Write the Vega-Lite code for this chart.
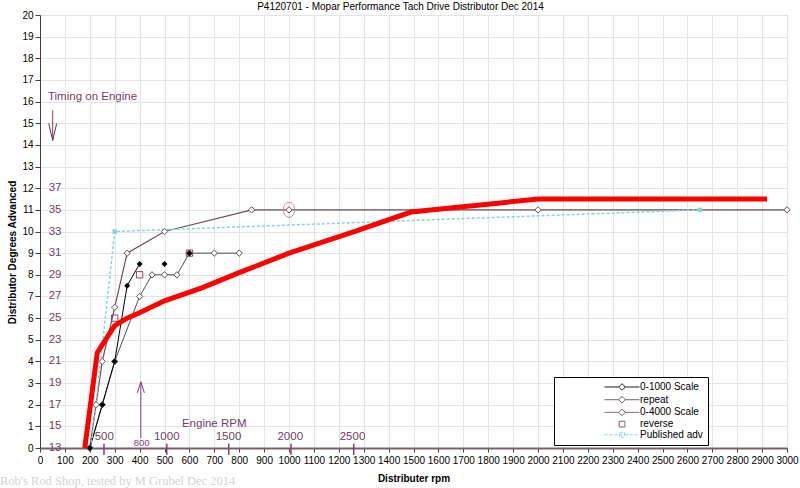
{
  "$schema": "https://vega.github.io/schema/vega-lite/v6.json",
  "width": 747,
  "height": 433,
  "autosize": {"type": "none"},
  "padding": {"left": 40, "top": 15, "right": 13, "bottom": 40},
  "background": "white",
  "config": {
    "font": "Liberation Sans",
    "view": {"stroke": "#808080", "strokeWidth": 1},
    "axis": {"labelFont": "Liberation Sans", "titleFont": "Liberation Sans", "labelColor": "#000", "titleColor": "#000", "tickColor": "#404040", "gridColor": "#e4e4e4", "gridWidth": 1}
  },
  "title": {"text": "P4120701 - Mopar Performance Tach Drive Distributor Dec 2014", "fontSize": 10, "fontWeight": "normal", "color": "#000", "offset": -2, "dx": -13, "anchor": "middle"},
  "datasets": {
    "series": [
      {"series": "0-1000 Scale", "seg": "a", "x": 200, "y": 0},
      {"series": "0-1000 Scale", "seg": "a", "x": 250, "y": 2},
      {"series": "0-1000 Scale", "seg": "a", "x": 300, "y": 4},
      {"series": "0-1000 Scale", "seg": "a", "x": 350, "y": 7.5},
      {"series": "0-1000 Scale", "seg": "a", "x": 400, "y": 8.5},
      {"series": "0-1000 Scale", "seg": "b", "x": 500, "y": 8.5},
      {"series": "0-1000 Scale", "seg": "c", "x": 600, "y": 9},
      {"series": "repeat", "seg": "a", "x": 200, "y": 0},
      {"series": "repeat", "seg": "a", "x": 250, "y": 2},
      {"series": "repeat", "seg": "a", "x": 300, "y": 4},
      {"series": "repeat", "seg": "a", "x": 400, "y": 7},
      {"series": "repeat", "seg": "a", "x": 450, "y": 8},
      {"series": "repeat", "seg": "a", "x": 500, "y": 8},
      {"series": "repeat", "seg": "a", "x": 550, "y": 8},
      {"series": "repeat", "seg": "a", "x": 600, "y": 9},
      {"series": "repeat", "seg": "a", "x": 700, "y": 9},
      {"series": "repeat", "seg": "a", "x": 800, "y": 9},
      {"series": "0-4000 Scale", "seg": "a", "x": 200, "y": 0},
      {"series": "0-4000 Scale", "seg": "a", "x": 225, "y": 2},
      {"series": "0-4000 Scale", "seg": "a", "x": 250, "y": 4},
      {"series": "0-4000 Scale", "seg": "a", "x": 300, "y": 6.5},
      {"series": "0-4000 Scale", "seg": "a", "x": 350, "y": 9},
      {"series": "0-4000 Scale", "seg": "a", "x": 500, "y": 10},
      {"series": "0-4000 Scale", "seg": "a", "x": 850, "y": 11},
      {"series": "0-4000 Scale", "seg": "a", "x": 1000, "y": 11},
      {"series": "0-4000 Scale", "seg": "a", "x": 2000, "y": 11},
      {"series": "0-4000 Scale", "seg": "a", "x": 3000, "y": 11},
      {"series": "reverse", "seg": "a", "x": 300, "y": 6},
      {"series": "reverse", "seg": "a", "x": 400, "y": 8},
      {"series": "reverse", "seg": "a", "x": 600, "y": 9},
      {"series": "Published adv", "seg": "a", "x": 205, "y": 0},
      {"series": "Published adv", "seg": "a", "x": 300, "y": 10},
      {"series": "Published adv", "seg": "a", "x": 2650, "y": 11}
    ]
  },
  "encoding": {
    "x": {
      "field": "x", "type": "quantitative",
      "scale": {"domain": [0, 3000], "nice": false, "zero": false},
      "axis": {
        "values": [0,100,200,300,400,500,600,700,800,900,1000,1100,1200,1300,1400,1500,1600,1700,1800,1900,2000,2100,2200,2300,2400,2500,2600,2700,2800,2900,3000],
        "format": "d",
        "title": "Distributer rpm", "labelFontSize": 10, "titleFontSize": 10, "titleFontWeight": "bold",
        "grid": true, "labelOverlap": false, "labelFlush": false, "tickSize": 4, "labelPadding": 3,
        "domainColor": "#6e6468", "domainWidth": 2, "titlePadding": 8
      }
    },
    "y": {
      "field": "y", "type": "quantitative",
      "scale": {"domain": [0, 20], "nice": false, "zero": false},
      "axis": {
        "values": [0,1,2,3,4,5,6,7,8,9,10,11,12,13,14,15,16,17,18,19,20],
        "format": "d",
        "title": "Distributor Degrees Advanced", "labelFontSize": 10, "titleFontSize": 10, "titleFontWeight": "bold",
        "grid": true, "labelOverlap": false, "labelFlush": false, "tickSize": 5, "labelPadding": 2,
        "domainColor": "#404040", "titlePadding": 4, "titleY": 237
      }
    }
  },
  "layer": [
    {
      "data": {"values": [
        {"x": 35, "y": 0, "label": "13"}, {"x": 35, "y": 1, "label": "15"}, {"x": 35, "y": 2, "label": "17"},
        {"x": 35, "y": 3, "label": "19"}, {"x": 35, "y": 4, "label": "21"}, {"x": 35, "y": 5, "label": "23"},
        {"x": 35, "y": 6, "label": "25"}, {"x": 35, "y": 7, "label": "27"}, {"x": 35, "y": 8, "label": "29"},
        {"x": 35, "y": 9, "label": "31"}, {"x": 35, "y": 10, "label": "33"}, {"x": 35, "y": 11, "label": "35"},
        {"x": 35, "y": 12, "label": "37"}
      ]},
      "mark": {"type": "text", "align": "left", "baseline": "middle", "fontSize": 11.5, "color": "#6f3f5f"},
      "encoding": {"text": {"field": "label"}}
    },
    {
      "data": {"values": [
        {"x": 32, "y": 16.2, "label": "Timing on Engine"},
        {"x": 570, "y": 1.1, "label": "Engine RPM"}
      ]},
      "mark": {"type": "text", "align": "left", "baseline": "middle", "fontSize": 11.5, "color": "#6f3f5f"},
      "encoding": {"text": {"field": "label"}}
    },
    {
      "data": {"values": [
        {"x": 258, "y": 0.52, "label": "500"},
        {"x": 509, "y": 0.52, "label": "1000"},
        {"x": 757, "y": 0.52, "label": "1500"},
        {"x": 1005, "y": 0.52, "label": "2000"},
        {"x": 1255, "y": 0.52, "label": "2500"}
      ]},
      "mark": {"type": "text", "align": "center", "baseline": "middle", "fontSize": 11.5, "color": "#6f3f5f"},
      "encoding": {"text": {"field": "label"}}
    },
    {
      "data": {"values": [{"x": 408, "y": 0.22, "label": "800"}]},
      "mark": {"type": "text", "align": "center", "baseline": "middle", "fontSize": 9.5, "color": "#8a3a80"},
      "encoding": {"text": {"field": "label"}}
    },
    {
      "data": {"values": [
        {"x": 257, "y": 0.2, "y2": -0.32},
        {"x": 509, "y": 0.2, "y2": -0.32},
        {"x": 758, "y": 0.2, "y2": -0.32},
        {"x": 1008, "y": 0.2, "y2": -0.32},
        {"x": 1260, "y": 0.2, "y2": -0.32}
      ]},
      "mark": {"type": "rule", "color": "#8a3a80", "strokeWidth": 1.5},
      "encoding": {"y2": {"field": "y2"}}
    },
    {
      "data": {"values": [
        {"x": 405, "y": 0.46, "y2": 3.06},
        {"x": 51, "y": 15.6, "y2": 14.2}
      ]},
      "mark": {"type": "rule", "color": "#8a3a80", "strokeWidth": 1},
      "encoding": {"y2": {"field": "y2"}}
    },
    {
      "data": {"values": [{"x": 405, "y": 2.8}]},
      "mark": {"type": "point", "shape": "M-0.64,1L0,-1L0.64,1", "size": 121, "filled": false, "stroke": "#8a3a80", "strokeWidth": 1, "opacity": 1}
    },
    {
      "data": {"values": [{"x": 51, "y": 14.6}]},
      "mark": {"type": "point", "shape": "M-0.47,-1L0,1L0.47,-1", "size": 289, "filled": false, "stroke": "#5a3a50", "strokeWidth": 1, "opacity": 1}
    },
    {
      "data": {"name": "series"},
      "transform": [{"filter": "datum.series === '0-4000 Scale'"}],
      "mark": {"type": "line", "color": "#6b4d5b", "strokeWidth": 1.2}
    },
    {
      "data": {"name": "series"},
      "transform": [{"filter": "datum.series === 'repeat'"}],
      "mark": {"type": "line", "color": "#505050", "strokeWidth": 1}
    },
    {
      "data": {"name": "series"},
      "transform": [{"filter": "datum.series === '0-1000 Scale'"}],
      "mark": {"type": "line", "color": "#000000", "strokeWidth": 1},
      "encoding": {"detail": {"field": "seg"}}
    },
    {
      "data": {"name": "series"},
      "transform": [{"filter": "datum.series === 'Published adv'"}],
      "mark": {"type": "line", "color": "#7fd9d9", "strokeWidth": 1.5, "strokeDash": [3, 2]}
    },
    {
      "data": {"name": "series"},
      "transform": [{"filter": "datum.series === 'Published adv'"}],
      "mark": {"type": "point", "shape": "square", "size": 20, "filled": true, "color": "#7fd9d9", "opacity": 1}
    },
    {
      "data": {"name": "series"},
      "transform": [{"filter": "datum.series === '0-4000 Scale'"}],
      "mark": {"type": "point", "shape": "diamond", "size": 40, "filled": true, "fill": "#ffffff", "stroke": "#6b4d5b", "strokeWidth": 1, "opacity": 1}
    },
    {
      "data": {"name": "series"},
      "transform": [{"filter": "datum.series === 'repeat'"}],
      "mark": {"type": "point", "shape": "diamond", "size": 40, "filled": true, "fill": "#ffffff", "stroke": "#505050", "strokeWidth": 1, "opacity": 1}
    },
    {
      "data": {"name": "series"},
      "transform": [{"filter": "datum.series === 'reverse'"}],
      "mark": {"type": "point", "shape": "square", "size": 40, "filled": false, "stroke": "#7a5060", "strokeWidth": 1, "opacity": 1}
    },
    {
      "data": {"name": "series"},
      "transform": [{"filter": "datum.series === '0-1000 Scale'"}],
      "mark": {"type": "point", "shape": "diamond", "size": 36, "filled": true, "color": "#000000", "opacity": 1}
    },
    {
      "data": {"values": [
        {"x": 180, "y": 0}, {"x": 230, "y": 4.4}, {"x": 300, "y": 5.65}, {"x": 350, "y": 6.0},
        {"x": 400, "y": 6.25}, {"x": 500, "y": 6.8}, {"x": 650, "y": 7.4}, {"x": 800, "y": 8.1},
        {"x": 1000, "y": 9.0}, {"x": 1250, "y": 9.95}, {"x": 1490, "y": 10.9}, {"x": 2000, "y": 11.5},
        {"x": 2920, "y": 11.5}
      ]},
      "mark": {"type": "line", "color": "#ff0000", "strokeWidth": 5}
    },
    {
      "data": {"values": [{"x": 1000, "y": 11}]},
      "mark": {"type": "point", "shape": "M0,-1A0.75,1 0 1,1 0,1A0.75,1 0 1,1 0,-1Z", "size": 225, "filled": false, "stroke": "#b58aa0", "strokeWidth": 1, "opacity": 1}
    },
    {
      "data": {"name": "series"},
      "mark": {"type": "point", "opacity": 0, "filled": true},
      "encoding": {
        "stroke": {"field": "series", "type": "nominal",
          "scale": {"domain": ["0-1000 Scale", "repeat", "0-4000 Scale", "reverse", "Published adv"], "range": ["#000000", "#505050", "#6b4d5b", "#7a5060", "#7fd9d9"]},
          "legend": {"orient": "none", "legendX": 514, "legendY": 362, "title": null, "strokeColor": "#000000", "fillColor": "#ffffff", "padding": 5, "symbolSize": 36, "symbolStrokeWidth": 1, "symbolOpacity": 1, "symbolOffset": 58, "labelOffset": 13, "labelFontSize": 10, "labelColor": "#000", "rowPadding": 0.7, "labelExpr": "datum.label + '\u00a0\u00a0\u00a0\u00a0\u00a0\u00a0\u00a0\u00a0\u00a0\u00a0\u00a0\u00a0\u00a0\u00a0\u00a0\u00a0'"}},
        "fill": {"field": "series", "type": "nominal",
          "scale": {"domain": ["0-1000 Scale", "repeat", "0-4000 Scale", "reverse", "Published adv"], "range": ["#000000", "#ffffff", "#ffffff", "#ffffff", "#7fd9d9"]}},
        "shape": {"field": "series", "type": "nominal",
          "scale": {"domain": ["0-1000 Scale", "repeat", "0-4000 Scale", "reverse", "Published adv"], "range": [
            "M-5.8,0H-1.1M1.1,0H5.8M0,-1.1L1.1,0L0,1.1L-1.1,0Z",
            "M-5.8,0H-1.1M1.1,0H5.8M0,-1.1L1.1,0L0,1.1L-1.1,0Z",
            "M-5.8,0H-1.1M1.1,0H5.8M0,-1.1L1.1,0L0,1.1L-1.1,0Z",
            "M-0.95,-0.95H0.95V0.95H-0.95Z",
            "M-5.8,0H5.8M-0.8,-0.8H0.8V0.8H-0.8Z"
          ]}},
        "strokeDash": {"field": "series", "type": "nominal",
          "scale": {"domain": ["0-1000 Scale", "repeat", "0-4000 Scale", "reverse", "Published adv"], "range": [[1, 0], [1, 0], [1, 0], [1, 0], [3, 2]]}}
      }
    },
    {
      "data": {"values": [{"x": -161, "y": -1.52, "label": "Rob's Rod Shop, tested by M Grubel Dec 2014"}]},
      "mark": {"type": "text", "align": "left", "baseline": "middle", "fontSize": 12.5, "font": "Liberation Serif", "color": "#d4d4d4"},
      "encoding": {"text": {"field": "label"}}
    }
  ]
}
